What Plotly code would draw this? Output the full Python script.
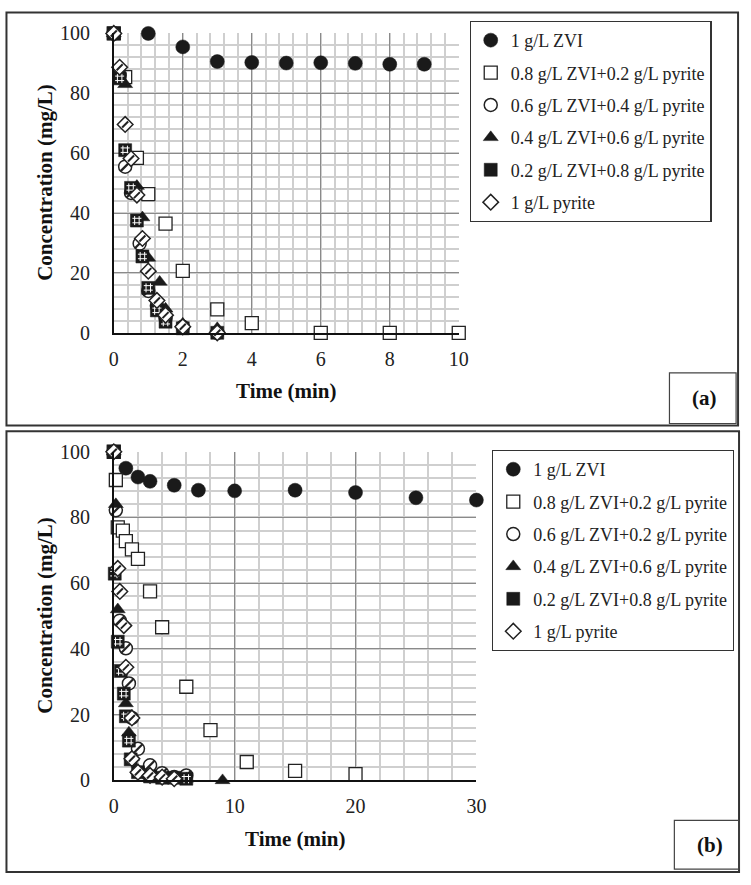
import plotly.graph_objects as go

W, H = 751, 885
FONT = "'Liberation Serif', 'Times New Roman', 'DejaVu Serif', serif"

# ---------------- data : panel (a) ----------------
a_zvi_t = [0, 1, 2, 3, 4, 5, 6, 7, 8, 9]
a_zvi_c = [100, 100, 95.5, 90.6, 90.3, 90.1, 90.2, 90.0, 89.7, 89.7]

a_08_t = [0, 0.33, 0.67, 1, 1.5, 2, 3, 4, 6, 8, 10]
a_08_c = [100, 85.4, 58.4, 46.3, 36.5, 20.7, 7.8, 3.2, 0, 0, 0]

a_06_t = [0, 0.17, 0.33, 0.5, 0.75, 1, 1.25, 1.5, 2, 3]
a_06_c = [100, 86, 55.5, 46.7, 29.8, 14, 9, 5, 2, 0]

a_04_t = [0, 0.33, 0.67, 0.83, 1, 1.33, 1.5, 2, 3]
a_04_c = [100, 83, 49, 38.5, 25, 17, 8, 3, 1.5]

a_02_t = [0, 0.17, 0.33, 0.5, 0.67, 0.83, 1, 1.25, 1.5, 2, 3]
a_02_c = [100, 85, 61, 48.4, 37.5, 25.5, 15, 7.5, 3.7, 1.5, 0]

a_py_t = [0, 0.17, 0.33, 0.5, 0.67, 0.83, 1, 1.25, 1.5, 2, 3]
a_py_c = [100, 88.7, 69.6, 58.2, 46, 31.5, 20.6, 10.8, 5.9, 2, 0]

# ---------------- data : panel (b) ----------------
b_zvi_t = [0, 1, 2, 3, 5, 7, 10, 15, 20, 25, 30]
b_zvi_c = [100, 95, 92.3, 91, 89.8, 88.3, 88.1, 88.3, 87.6, 86, 85.3]

b_08_t = [0, 0.17, 0.33, 0.75, 1, 1.5, 2, 3, 4, 6, 8, 11, 15, 20]
b_08_c = [100, 91.4, 77, 76, 72.8, 70.3, 67.4, 57.5, 46.6, 28.5, 15.3, 5.6, 2.9, 1.9]

b_06_t = [0, 0.17, 0.5, 1, 1.25, 1.5, 2, 3, 4, 5, 6]
b_06_c = [100, 82.2, 48.6, 40.2, 29.5, 19, 9.6, 4.6, 2.2, 1, 1.5]

b_04_t = [0, 0.17, 0.33, 1, 1.25, 1.5, 2, 3, 4, 5, 6, 9]
b_04_c = [100, 84, 52, 23.4, 14.5, 7, 3, 1.5, 1, 0.5, 0.5, 0]

b_02_t = [0, 0.08, 0.33, 0.58, 0.83, 1, 1.25, 1.4, 2, 3, 4, 5, 6]
b_02_c = [100, 62.9, 42.2, 33.3, 26.4, 19.5, 12.1, 6.4, 2.5, 1.2, 0.8, 0.8, 0.5]

b_py_t = [0, 0.33, 0.5, 0.83, 1, 1.5, 1.5, 2, 3, 4, 5]
b_py_c = [100, 64.5, 57.5, 47.1, 34.4, 19, 6.6, 2.5, 1.5, 1, 0.5]

labels_a = ["1 g/L ZVI", "0.8 g/L ZVI+0.2 g/L pyrite", "0.6 g/L ZVI+0.4 g/L pyrite",
            "0.4 g/L ZVI+0.6 g/L pyrite", "0.2 g/L ZVI+0.8 g/L pyrite", "1 g/L pyrite"]
labels_b = ["1 g/L ZVI", "0.8 g/L ZVI+0.2 g/L pyrite", "0.6 g/L ZVI+0.2 g/L pyrite",
            "0.4 g/L ZVI+0.6 g/L pyrite", "0.2 g/L ZVI+0.8 g/L pyrite", "1 g/L pyrite"]

x_ticks_a = [0, 2, 4, 6, 8, 10]
x_ticks_b = [0, 10, 20, 30]
y_ticks = [0, 20, 40, 60, 80, 100]


def X(px):
    return px / W


def Y(py):
    return 1 - py / H


fig = go.Figure()

BLACK = "#1a1a1a"
DARK = "#222"
styles = [
    (dict(symbol="circle", color=BLACK, size=14, line=dict(color=BLACK, width=0.5)), None),
    (dict(symbol="square", color="white", size=13, line=dict(color=DARK, width=1.3)), None),
    (dict(symbol="circle", color="white", size=13, line=dict(color=DARK, width=1.5)),
     dict(symbol="line-ne-open", size=9, color=DARK, line=dict(color=DARK, width=2.2))),
    (dict(symbol="triangle-up", color=BLACK, size=13, line=dict(color=BLACK, width=0.5)), None),
    (dict(symbol="square", color=BLACK, size=13, line=dict(color=BLACK, width=0.5)),
     dict(symbol="hash-open", size=9, color="white", line=dict(color="white", width=1))),
    (dict(symbol="diamond", color="white", size=12, line=dict(color=DARK, width=1.5)),
     dict(symbol="line-ne-open", size=6, color=DARK, line=dict(color=DARK, width=2))),
]

panels = [
    ("x", "y", "legend", labels_a,
     [(a_zvi_t, a_zvi_c), (a_08_t, a_08_c), (a_06_t, a_06_c),
      (a_04_t, a_04_c), (a_02_t, a_02_c), (a_py_t, a_py_c)]),
    ("x2", "y2", "legend2", labels_b,
     [(b_zvi_t, b_zvi_c), (b_08_t, b_08_c), (b_06_t, b_06_c),
      (b_04_t, b_04_c), (b_02_t, b_02_c), (b_py_t, b_py_c)]),
]

for xa, ya, leg, labels, series in panels:
    for i, ((t, c), (mk, ov)) in enumerate(zip(series, styles)):
        grp = f"{leg}_{i}"
        fig.add_trace(go.Scatter(x=t, y=c, mode="markers", name=labels[i], marker=mk,
                                 xaxis=xa, yaxis=ya, legend=leg, legendgroup=grp,
                                 cliponaxis=False))
        if ov is not None:
            fig.add_trace(go.Scatter(x=t, y=c, mode="markers", marker=ov, showlegend=False,
                                     xaxis=xa, yaxis=ya, legend=leg, legendgroup=grp,
                                     cliponaxis=False, hoverinfo="skip"))

tickfont = dict(family=FONT, size=20, color="#222")
common = dict(showline=True, linecolor="#111", linewidth=1.5, ticks="", zeroline=False,
              showgrid=True, gridcolor="#8a8a8a", gridwidth=1, tickfont=tickfont)

legend_common = dict(xanchor="left", yanchor="top", bordercolor="#333", borderwidth=1.2,
                     bgcolor="white", font=dict(family=FONT, size=18, color="#222"),
                     traceorder="grouped", tracegroupgap=6, itemwidth=30)

fig.update_layout(
    width=W, height=H, margin=dict(l=0, r=0, t=0, b=0),
    paper_bgcolor="white", plot_bgcolor="white",
    font=dict(family=FONT, color="#222"),
    xaxis=dict(domain=[X(111), X(463)], range=[0, 10], tickvals=x_ticks_a, anchor="y",
               minor=dict(dtick=0.4, showgrid=True, gridcolor="#cfcfcf", gridwidth=1.5),
               ticklabelstandoff=7, **common),
    yaxis=dict(domain=[Y(330), Y(23)], range=[0, 100], tickvals=y_ticks, anchor="x",
               minor=dict(dtick=4, showgrid=True, gridcolor="#cfcfcf", gridwidth=1.5),
               ticklabelstandoff=18, **common),
    xaxis2=dict(domain=[X(111), X(481)], range=[0, 30], tickvals=x_ticks_b, anchor="y2",
                minor=dict(dtick=2, showgrid=True, gridcolor="#cfcfcf", gridwidth=1.5),
                ticklabelstandoff=7, **common),
    yaxis2=dict(domain=[Y(789), Y(452)], range=[0, 100], tickvals=y_ticks, anchor="x2",
                minor=dict(dtick=4, showgrid=True, gridcolor="#cfcfcf", gridwidth=1.5),
                ticklabelstandoff=18, **common),
    legend=dict(x=X(474), y=Y(10), **legend_common),
    legend2=dict(x=X(497), y=Y(450), **legend_common),
    showlegend=True,
)

shapes = [
    dict(type="rect", xref="paper", yref="paper", x0=X(1.5), x1=X(748), y0=Y(425), y1=Y(1.5),
         line=dict(color="#333", width=2)),
    dict(type="rect", xref="paper", yref="paper", x0=X(1.5), x1=X(749), y0=Y(883), y1=Y(431),
         line=dict(color="#333", width=2)),
    dict(type="rect", xref="paper", yref="paper", x0=X(678), x1=X(746), y0=Y(423), y1=Y(371),
         line=dict(color="#444", width=1.2)),
    dict(type="rect", xref="paper", yref="paper", x0=X(683), x1=X(749), y0=Y(880), y1=Y(830),
         line=dict(color="#444", width=1.2)),
]
fig.update_layout(shapes=shapes)

ttl = dict(family=FONT, size=21, color="#111")
ann = [
    dict(text="<b>Concentration (mg/L)</b>", x=X(40), y=Y(176), textangle=-90),
    dict(text="<b>Time (min)</b>", x=X(287), y=Y(390)),
    dict(text="<b>(a)</b>", x=X(714), y=Y(397)),
    dict(text="<b>Concentration (mg/L)</b>", x=X(40), y=Y(620), textangle=-90),
    dict(text="<b>Time (min)</b>", x=X(296), y=Y(849)),
    dict(text="<b>(b)</b>", x=X(719), y=Y(855)),
]
for a in ann:
    fig.add_annotation(xref="paper", yref="paper", showarrow=False, font=ttl,
                       xanchor="center", yanchor="middle", **a)

fig.write_html("out.html")
